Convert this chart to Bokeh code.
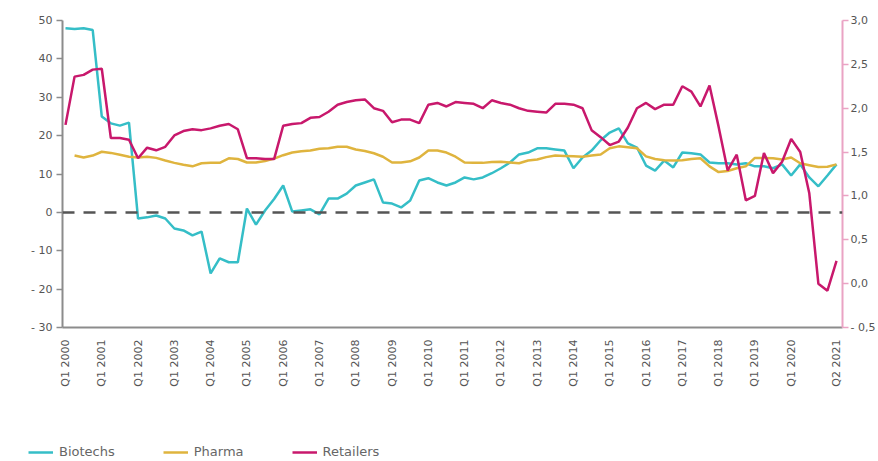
import math
from bokeh.plotting import figure
from bokeh.layouts import column
from bokeh.models import LinearAxis, Range1d, FixedTicker, Span, Legend, LegendItem
from bokeh.embed import file_html
from bokeh.resources import INLINE

# Quarterly data, Q1 2000 .. Q2 2021 (86 quarters)
biotechs = [48, 47.8, 48, 47.5, 25, 23.2, 22.6, 23.4, -1.6, -1.3,
            -0.8, -1.6, -4.2, -4.7, -6, -5, -15.9, -12, -13, -13,
            1, -3.2, 0.5, 3.5, 7, 0.2, 0.5, 0.8, -0.5, 3.6,
            3.6, 4.9, 7, 7.8, 8.6, 2.6, 2.3, 1.3, 3.1, 8.3,
            8.9, 7.8, 7.0, 7.8, 9.1, 8.6, 9.1, 10.2, 11.5, 13,
            15.1, 15.6, 16.7, 16.7, 16.4, 16.1, 11.5, 14.3, 16.1, 18.8,
            20.8, 21.9, 18, 16.9, 12.2, 10.9, 13.5, 11.7, 15.6, 15.4,
            15.1, 13, 12.8, 12.8, 12.5, 12.8, 12, 12, 11.5, 12.5,
            9.6, 12.5, 9.1, 6.8, 9.6, 12.5]

pharma = [float("nan"), 14.8, 14.3, 14.8, 15.8, 15.5, 15, 14.5, 14.3, 14.5,
          14.2, 13.5, 12.9, 12.4, 12, 12.8, 12.9, 12.9, 14.1, 13.9,
          13, 13, 13.4, 14, 14.9, 15.6, 15.9, 16.1, 16.6, 16.7,
          17.1, 17.1, 16.4, 16, 15.4, 14.5, 13, 13, 13.3, 14.3,
          16.1, 16.1, 15.6, 14.5, 13, 12.9, 12.9, 13.1, 13.2, 13,
          12.8, 13.5, 13.8, 14.4, 14.8, 14.7, 14.6, 14.5, 14.8, 15.1,
          16.7, 17.2, 17, 16.7, 14.6, 13.9, 13.6, 13.5, 13.6, 13.9,
          14.1, 12, 10.5, 10.8, 11.5, 12, 14.2, 14.2, 14.1, 13.8,
          14.3, 12.8, 12.3, 11.8, 11.9, 12.5]

retailers = [1.81, 2.36, 2.38, 2.44, 2.45, 1.66, 1.66, 1.64, 1.43, 1.55,
             1.52, 1.56, 1.69, 1.74, 1.76, 1.75, 1.77, 1.80, 1.82, 1.76,
             1.43, 1.43, 1.42, 1.42, 1.80, 1.82, 1.83, 1.89, 1.90, 1.96,
             2.04, 2.07, 2.09, 2.10, 2.0, 1.97, 1.84, 1.87, 1.87, 1.83,
             2.04, 2.06, 2.02, 2.07, 2.06, 2.05, 2.0, 2.09, 2.06, 2.04,
             2.0, 1.97, 1.96, 1.95, 2.05, 2.05, 2.04, 2.0, 1.75, 1.67,
             1.58, 1.62, 1.78, 2.0, 2.06, 1.99, 2.04, 2.04, 2.25, 2.19,
             2.02, 2.26, 1.79, 1.29, 1.47, 0.95, 1.0, 1.49, 1.26, 1.39,
             1.65, 1.5, 1.03, 0.0, -0.08, 0.26]

tick_labels = ["Q1 2000", "Q1 2001", "Q1 2002", "Q1 2003", "Q1 2004", "Q1 2005",
               "Q1 2006", "Q1 2007", "Q1 2008", "Q1 2009", "Q1 2010", "Q1 2011",
               "Q1 2012", "Q1 2013", "Q1 2014", "Q1 2015", "Q1 2016", "Q1 2017",
               "Q1 2018", "Q1 2019", "Q1 2020", "Q2 2021"]
left_ticks = [-30, -20, -10, 0, 10, 20, 30, 40, 50]
left_labels = ["- 30", "- 20", "- 10", "0", "10", "20", "30", "40", "50"]
right_ticks = [-0.5, 0.0, 0.5, 1.0, 1.5, 2.0, 2.5, 3.0]
right_labels = ["- 0,5", "0,0", "0,5", "1,0", "1,5", "2,0", "2,5", "3,0"]
series_names = ["Biotechs", "Pharma", "Retailers"]

TEAL = "#35bec7"
GOLD = "#dfb43e"
MAGENTA = "#c8186c"
PINK = "#eaa3c4"
AXIS_GREY = "#8c8c8c"
TEXT_GREY = "#555555"
FONT = "DejaVu Sans"

n = len(biotechs)
x = list(range(n))

p = figure(width=878, height=400, output_backend="svg", toolbar_location=None,
           x_range=Range1d(-0.33, 85.66), y_range=Range1d(-30, 50),
           min_border_left=62, min_border_right=33, min_border_top=20,
           min_border_bottom=73)
p.frame_align = False
p.extra_y_ranges = {"right": Range1d(-0.5, 3.0)}
p.outline_line_color = None
p.xgrid.visible = False
p.ygrid.visible = False

# x axis
tick_pos = [i * 4 for i in range(len(tick_labels) - 1)] + [n - 1]
xa = p.xaxis[0]
xa.ticker = FixedTicker(ticks=tick_pos)
xa.major_label_overrides = {t: l for t, l in zip(tick_pos, tick_labels)}
xa.major_label_orientation = math.pi / 2
xa.axis_line_color = AXIS_GREY
xa.axis_line_width = 2
xa.major_tick_line_color = None
xa.minor_tick_line_color = None
xa.major_label_text_font = FONT
xa.major_label_text_font_size = "11px"
xa.major_label_text_color = TEXT_GREY
xa.major_label_standoff = 6

# left axis
ya = p.yaxis[0]
ya.ticker = FixedTicker(ticks=left_ticks)
ya.major_label_overrides = {t: l for t, l in zip(left_ticks, left_labels)}
ya.axis_line_color = AXIS_GREY
ya.axis_line_width = 2
ya.major_tick_line_color = AXIS_GREY
ya.major_tick_line_width = 1.5
ya.major_tick_out = 6
ya.major_tick_in = 0
ya.minor_tick_line_color = None
ya.major_label_text_font = FONT
ya.major_label_text_font_size = "11px"
ya.major_label_text_color = TEXT_GREY
ya.major_label_standoff = 4

# right axis
ra = LinearAxis(y_range_name="right", ticker=FixedTicker(ticks=right_ticks))
ra.major_label_overrides = {t: l for t, l in zip(right_ticks, right_labels)}
ra.axis_line_color = PINK
ra.axis_line_width = 2
ra.major_tick_line_color = PINK
ra.major_tick_line_width = 1.5
ra.major_tick_out = 6
ra.major_tick_in = 0
ra.minor_tick_line_color = None
ra.major_label_text_font = FONT
ra.major_label_text_font_size = "11px"
ra.major_label_text_color = TEXT_GREY
ra.major_label_standoff = 2
p.add_layout(ra, "right")

# zero line
p.add_layout(Span(location=0, dimension="width", line_color="#555555",
                  line_width=2.5, line_dash="12 9"))

p.line(x, biotechs, line_color=TEAL, line_width=2.5)
p.line(x, pharma, line_color=GOLD, line_width=2.5)
p.line(x, retailers, line_color=MAGENTA, line_width=2.5, y_range_name="right")

# legend strip below the chart
lf = figure(width=878, height=61, output_backend="svg", toolbar_location=None,
            x_range=Range1d(0, 1), y_range=Range1d(0, 1), min_border=0,
            x_axis_location=None, y_axis_location=None)
lf.frame_align = False
lf.outline_line_color = None
lf.grid.visible = False
items = []
for name, col in zip(series_names, [TEAL, GOLD, MAGENTA]):
    r = lf.line([-5, -4], [-5, -5], line_color=col, line_width=2.5)
    items.append(LegendItem(label=name, renderers=[r]))
legend = Legend(items=items, location=(28, 2), orientation="horizontal",
                background_fill_alpha=0, border_line_color=None,
                padding=0, margin=0, spacing=48, glyph_width=25,
                glyph_height=14, label_height=14, label_standoff=6,
                label_text_font=FONT, label_text_font_size="13px",
                label_text_color="#666666")
lf.add_layout(legend, "center")

layout = column(p, lf, spacing=0)
open("out.html", "w").write(file_html(layout, INLINE))
